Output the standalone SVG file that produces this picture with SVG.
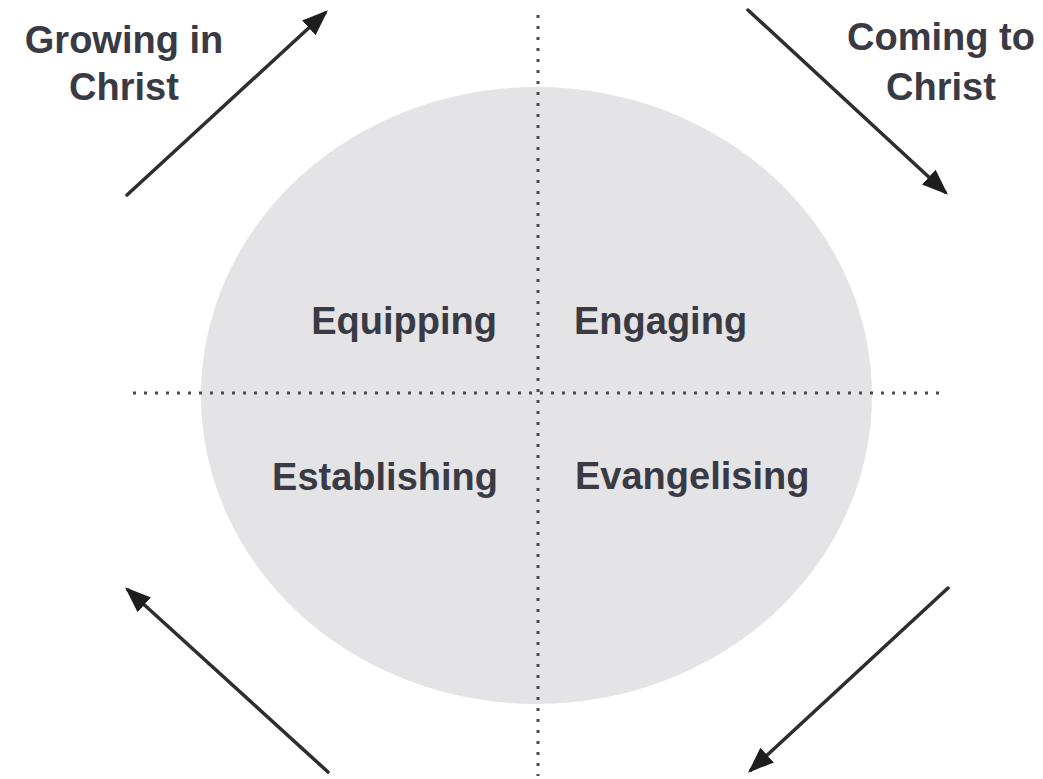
<svg xmlns="http://www.w3.org/2000/svg" width="1043" height="779" viewBox="0 0 1043 779">
  <defs>
    <style>
      .lbl { font-family: "Liberation Sans", Arial, sans-serif; font-weight: bold; font-size: 38px; fill: #3a3a44; }
      .arrow { stroke: #2e2e2e; stroke-width: 3.5; fill: none; stroke-linecap: round; marker-end: url(#head); }
      .dots { stroke: #4a4a4a; stroke-width: 3; stroke-dasharray: 3 8; fill: none; }
    </style>
    <marker id="head" viewBox="0 0 26 20" refX="22" refY="10" markerWidth="26" markerHeight="20" markerUnits="userSpaceOnUse" orient="auto">
      <path d="M0,0 L26,10 L0,20 Z" fill="#1e1e1e"/>
    </marker>
  </defs>
  <rect width="1043" height="779" fill="#ffffff"/>
  <g id="circle">
    <ellipse cx="536.5" cy="395.5" rx="335.5" ry="308.5" fill="#e4e4e6"/>
  </g>
  <g id="axes">
    <line class="dots" x1="538" y1="15" x2="538" y2="776"/>
    <line class="dots" x1="133" y1="393" x2="942" y2="393"/>
  </g>
  <g id="connectors">
    <line class="arrow" x1="127" y1="195" x2="325" y2="13"/>
    <line class="arrow" x1="748" y1="10" x2="945" y2="192"/>
    <line class="arrow" x1="328" y1="772" x2="128" y2="590"/>
    <line class="arrow" x1="948" y1="588" x2="751" y2="770"/>
  </g>
  <g id="growing">
    <text class="lbl" x="124" y="53" text-anchor="middle">Growing in</text>
    <text class="lbl" x="124" y="100" text-anchor="middle">Christ</text>
  </g>
  <g id="coming">
    <text class="lbl" x="941" y="50" text-anchor="middle">Coming to</text>
    <text class="lbl" x="941" y="100" text-anchor="middle">Christ</text>
  </g>
  <g id="equipping">
    <text class="lbl" x="497" y="334" text-anchor="end">Equipping</text>
  </g>
  <g id="engaging">
    <text class="lbl" x="574" y="334">Engaging</text>
  </g>
  <g id="establishing">
    <text class="lbl" x="498" y="490" text-anchor="end">Establishing</text>
  </g>
  <g id="evangelising">
    <text class="lbl" x="575" y="489">Evangelising</text>
  </g>
</svg>
